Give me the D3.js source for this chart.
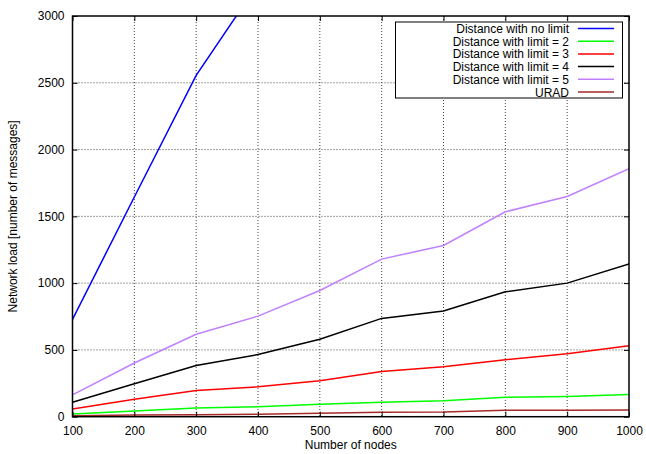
<!DOCTYPE html>
<html>
<head>
<meta charset="utf-8">
<script src="https://cdn.jsdelivr.net/npm/d3@7"></script>
<style>
body { margin: 0; background: #fff; }
svg { font-family: "Liberation Sans", Arial, sans-serif; }
</style>
</head>
<body>
<svg id="svg1" width="646" height="454"></svg>
<script>
var nodes = [100, 200, 300, 400, 500, 600, 700, 800, 900, 1000];
var noLimit = [728, 1645, 2556, 3240];
var limit2 = [20, 43, 65, 75, 93, 108, 120, 146, 151, 166];
var limit3 = [58, 131, 196, 224, 269, 339, 374, 427, 472, 532];
var limit4 = [108, 246, 384, 465, 580, 736, 791, 935, 1000, 1143];
var limit5 = [163, 402, 617, 753, 945, 1180, 1282, 1534, 1649, 1856];
var urad = [8, 12, 15, 18, 25, 33, 35, 48, 48, 50];
var xTicks = [100, 200, 300, 400, 500, 600, 700, 800, 900, 1000];
var yTicks = [0, 500, 1000, 1500, 2000, 2500, 3000];

var series = [
	{name: 'Distance with no limit', values: noLimit, color: '#0000ff'},
	{name: 'Distance with limit = 2', values: limit2, color: '#00ff00'},
	{name: 'Distance with limit = 3', values: limit3, color: '#ff0000'},
	{name: 'Distance with limit = 4', values: limit4, color: '#000000'},
	{name: 'Distance with limit = 5', values: limit5, color: '#c080ff'},
	{name: 'URAD', values: urad, color: '#a52a2a'}
];

var svg1 = d3.select('#svg1');
var pLeft = 72.5, pRight = 629, pTop = 16, pBottom = 416.7;

var x = d3.scaleLinear().domain([100, 1000]).range([pLeft, pRight]);
var y = d3.scaleLinear().domain([0, 3000]).range([pBottom, pTop]);

// grid
var grid = svg1.append('g');
grid.selectAll('empty').data(xTicks.slice(1, -1)).enter().append('line')
	.attr('x1', d => x(d)).attr('x2', d => x(d)).attr('y1', pTop).attr('y2', pBottom)
	.attr('stroke', '#444').attr('stroke-width', 1).attr('stroke-dasharray', '1,2');
grid.selectAll('empty').data(yTicks.slice(1, -1)).enter().append('line')
	.attr('x1', pLeft).attr('x2', pRight).attr('y1', d => y(d)).attr('y2', d => y(d))
	.attr('stroke', '#444').attr('stroke-width', 1).attr('stroke-dasharray', '1,2');

// lines
svg1.append('clipPath').attr('id', 'clip').append('rect')
	.attr('x', pLeft).attr('y', pTop).attr('width', pRight - pLeft).attr('height', pBottom - pTop);
var line = d3.line().x((d, i) => x(nodes[i])).y(d => y(d));
svg1.append('g').attr('clip-path', 'url(#clip)')
	.selectAll('empty').data(series).enter().append('path')
	.attr('d', d => line(d.values)).attr('fill', 'none')
	.attr('stroke', d => d.color).attr('stroke-width', 1.5);

// axes (ticks inward, mirrored)
svg1.append('g').attr('transform', 'translate(0,' + pBottom + ')')
	.call(d3.axisBottom(x).tickValues(xTicks).tickSize(-5).tickPadding(10).tickFormat(d3.format('d')));
svg1.append('g').attr('transform', 'translate(0,' + pTop + ')')
	.call(d3.axisTop(x).tickValues(xTicks).tickSize(-5).tickFormat(''));
svg1.append('g').attr('transform', 'translate(' + pLeft + ',0)')
	.call(d3.axisLeft(y).tickValues(yTicks).tickSize(-5).tickPadding(8).tickFormat(d3.format('d')));
svg1.append('g').attr('transform', 'translate(' + pRight + ',0)')
	.call(d3.axisRight(y).tickValues(yTicks).tickSize(-5).tickFormat(''));
svg1.selectAll('.domain').remove();
svg1.selectAll('.tick line').attr('stroke', '#000').attr('stroke-width', 1);
svg1.selectAll('.tick text').attr('font-size', 12).attr('fill', '#000')
	.attr('font-family', '"Liberation Sans", Arial, sans-serif');

svg1.append('rect').attr('x', pLeft).attr('y', pTop).attr('width', pRight - pLeft).attr('height', pBottom - pTop)
	.attr('fill', 'none').attr('stroke', '#000').attr('stroke-width', 1.5);

// axis titles
svg1.append('text').attr('x', (pLeft + pRight) / 2).attr('y', 449).attr('text-anchor', 'middle')
	.attr('font-size', 12).text('Number of nodes');
svg1.append('text').attr('transform', 'translate(17,' + ((pTop + pBottom) / 2) + ') rotate(-90)')
	.attr('text-anchor', 'middle').attr('font-size', 12).text('Network load [number of messages]');

// legend
var legend = svg1.append('g');
legend.append('rect').attr('x', 395.5).attr('y', 22).attr('width', 227).attr('height', 76)
	.attr('fill', '#fff').attr('stroke', '#000').attr('stroke-width', 1);
var rows = legend.selectAll('empty').data(series).enter().append('g')
	.attr('transform', (d, i) => 'translate(0,' + (28.5 + i * 12.7) + ')');
rows.append('text').attr('x', 569).attr('y', 4.5).attr('text-anchor', 'end')
	.attr('font-size', 12).text(d => d.name);
rows.append('line').attr('x1', 578).attr('x2', 614).attr('y1', 0).attr('y2', 0)
	.attr('stroke', d => d.color).attr('stroke-width', 1.5);
</script>
</body>
</html>
